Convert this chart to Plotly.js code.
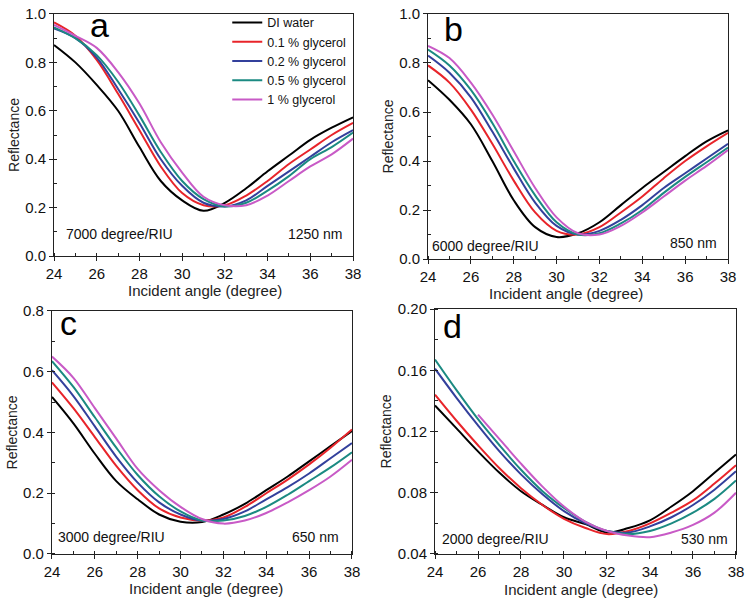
<!DOCTYPE html>
<html>
<head>
<meta charset="utf-8">
<script src="https://cdn.plot.ly/plotly-3.0.1.min.js"></script>
<style>html,body{margin:0;padding:0;background:#fff;}#chart{width:750px;height:600px;}</style>
</head>
<body>
<div id="chart"></div>
<script>
// ---------- data ----------
const seriesNames = ["DI water", "0.1 % glycerol", "0.2 % glycerol", "0.5 % glycerol", "1 % glycerol"];
const seriesColors = ["#000000", "#e8242a", "#33409c", "#1b8a82", "#c85ac6"];
const angle = [24, 25, 26, 27, 28, 29, 30, 31, 32, 33, 34, 35, 36, 37, 38];

// panel a (1250 nm)
const a_water = [0.872, 0.80, 0.707, 0.60, 0.45, 0.31, 0.23, 0.187, 0.22, 0.28, 0.35, 0.415, 0.48, 0.53, 0.573];
const a_g01   = [0.965, 0.91, 0.81, 0.67, 0.52, 0.37, 0.26, 0.21, 0.21, 0.25, 0.31, 0.38, 0.44, 0.50, 0.55];
const a_g02   = [0.94, 0.90, 0.82, 0.69, 0.55, 0.40, 0.29, 0.22, 0.205, 0.23, 0.29, 0.35, 0.41, 0.47, 0.52];
const a_g05   = [0.945, 0.90, 0.83, 0.72, 0.58, 0.43, 0.31, 0.235, 0.205, 0.22, 0.27, 0.33, 0.40, 0.45, 0.51];
const a_g1    = [0.955, 0.91, 0.86, 0.76, 0.63, 0.47, 0.345, 0.245, 0.21, 0.21, 0.25, 0.31, 0.37, 0.42, 0.485];

// panel b (850 nm)
const b_water = [0.73, 0.65, 0.55, 0.40, 0.24, 0.13, 0.09, 0.105, 0.15, 0.22, 0.29, 0.355, 0.42, 0.48, 0.525];
const b_g01   = [0.79, 0.72, 0.61, 0.47, 0.32, 0.19, 0.115, 0.10, 0.13, 0.19, 0.255, 0.33, 0.40, 0.46, 0.515];
const b_g02   = [0.83, 0.76, 0.66, 0.52, 0.37, 0.23, 0.135, 0.10, 0.115, 0.16, 0.22, 0.29, 0.35, 0.41, 0.47];
const b_g05   = [0.855, 0.79, 0.69, 0.555, 0.40, 0.26, 0.15, 0.10, 0.105, 0.145, 0.20, 0.27, 0.335, 0.395, 0.455];
const b_g1    = [0.87, 0.82, 0.72, 0.59, 0.44, 0.29, 0.17, 0.105, 0.10, 0.135, 0.19, 0.255, 0.32, 0.38, 0.445];

// panel c (650 nm)
const c_water = [0.517, 0.43, 0.33, 0.24, 0.18, 0.13, 0.106, 0.105, 0.13, 0.165, 0.21, 0.255, 0.305, 0.355, 0.405];
const c_g01   = [0.565, 0.48, 0.385, 0.29, 0.21, 0.15, 0.12, 0.11, 0.12, 0.155, 0.20, 0.245, 0.295, 0.35, 0.41];
const c_g02   = [0.605, 0.52, 0.42, 0.32, 0.235, 0.17, 0.13, 0.11, 0.115, 0.14, 0.18, 0.22, 0.265, 0.315, 0.365];
const c_g05   = [0.635, 0.55, 0.45, 0.35, 0.26, 0.19, 0.14, 0.11, 0.11, 0.125, 0.155, 0.195, 0.24, 0.285, 0.335];
const c_g1    = [0.65, 0.58, 0.48, 0.38, 0.28, 0.21, 0.155, 0.115, 0.10, 0.11, 0.135, 0.17, 0.21, 0.255, 0.31];

// panel d (530 nm)
const angleD1 = [26, 27, 28, 29, 30, 31, 32, 33, 34, 35, 36, 37, 38];
const d_water = [0.137, 0.122, 0.107, 0.093, 0.081, 0.072, 0.064, 0.0595, 0.054, 0.057, 0.062, 0.071, 0.081, 0.093, 0.105];
const d_g01   = [0.144, 0.127, 0.111, 0.096, 0.083, 0.072, 0.063, 0.057, 0.053, 0.055, 0.060, 0.067, 0.075, 0.086, 0.098];
const d_g02   = [0.161, 0.142, 0.124, 0.107, 0.092, 0.079, 0.068, 0.060, 0.055, 0.054, 0.058, 0.064, 0.072, 0.082, 0.094];
const d_g05   = [0.167, 0.147, 0.128, 0.111, 0.095, 0.081, 0.070, 0.061, 0.055, 0.053, 0.055, 0.060, 0.067, 0.076, 0.088];
const d_g1    = [0.131, 0.115, 0.099, 0.084, 0.071, 0.061, 0.055, 0.052, 0.051, 0.054, 0.059, 0.067, 0.080];

const sensitivityLabels = ["7000 degree/RIU", "6000 degree/RIU", "3000 degree/RIU", "2000 degree/RIU"];
const wavelengthLabels = ["1250 nm", "850 nm", "650 nm", "530 nm"];
const panelLetters = ["a", "b", "c", "d"];
const xTitle = "Incident angle (degree)";
const yTitle = "Reflectance";

// ---------- build ----------
const panels = [
  {xs: [angle, angle, angle, angle, angle], ys: [a_water, a_g01, a_g02, a_g05, a_g1], ax: "x", ay: "y"},
  {xs: [angle, angle, angle, angle, angle], ys: [b_water, b_g01, b_g02, b_g05, b_g1], ax: "x2", ay: "y2"},
  {xs: [angle, angle, angle, angle, angle], ys: [c_water, c_g01, c_g02, c_g05, c_g1], ax: "x3", ay: "y3"},
  {xs: [angle, angle, angle, angle, angleD1], ys: [d_water, d_g01, d_g02, d_g05, d_g1], ax: "x4", ay: "y4"}
];

const traces = [];
panels.forEach((p, pi) => {
  for (let s = 0; s < 5; s++) {
    traces.push({
      type: "scatter", mode: "lines",
      x: p.xs[s], y: p.ys[s],
      xaxis: p.ax, yaxis: p.ay,
      name: seriesNames[s],
      showlegend: pi === 0,
      line: {color: seriesColors[s], width: 2, shape: "spline", smoothing: 1},
      hoverinfo: "skip"
    });
  }
});

const FONT = "Liberation Sans, Arial, sans-serif";
function xAx(domain, anchor) {
  return {
    domain: domain, anchor: anchor, range: [24, 38], dtick: 2, tick0: 24,
    showgrid: false, zeroline: false, showline: true, linecolor: "#222", linewidth: 1, mirror: true,
    ticks: "outside", ticklen: 4, tickcolor: "#222",
    minor: {dtick: 1, ticks: "inside", ticklen: 3, tickcolor: "#222", showgrid: false},
    tickfont: {family: FONT, size: 15, color: "#111"}
  };
}
function yAx(domain, anchor, range, dtick, fmt, minorD) {
  return {
    domain: domain, anchor: anchor, range: range, dtick: dtick, tick0: range[0], tickformat: fmt,
    showgrid: false, zeroline: false, showline: true, linecolor: "#222", linewidth: 1, mirror: true,
    ticks: "outside", ticklen: 4, tickcolor: "#222",
    minor: {dtick: minorD, ticks: "inside", ticklen: 3, tickcolor: "#222", showgrid: false},
    tickfont: {family: FONT, size: 15, color: "#111"},
    title: {text: yTitle, font: {family: FONT, size: 14, color: "#222"}, standoff: 2}
  };
}

const layout = {
  width: 750, height: 600,
  margin: {l: 0, r: 0, t: 0, b: 0},
  paper_bgcolor: "#fff", plot_bgcolor: "#fff",
  font: {family: FONT, color: "#111"},
  xaxis:  xAx([0.072, 0.4707], "y"),
  yaxis:  yAx([0.5733, 0.9767], "x", [0, 1.0], 0.2, ".1f", 0.1),
  xaxis2: xAx([0.5707, 0.9707], "y2"),
  yaxis2: yAx([0.5683, 0.9767], "x2", [0, 1.0], 0.2, ".1f", 0.1),
  xaxis3: xAx([0.0693, 0.4693], "y3"),
  yaxis3: yAx([0.0767, 0.4817], "x3", [0, 0.8], 0.2, ".1f", 0.1),
  xaxis4: xAx([0.58, 0.9813], "y4"),
  yaxis4: yAx([0.0767, 0.485], "x4", [0.04, 0.20], 0.04, ".2f", 0.02),
  showlegend: true,
  legend: {
    x: 0.303, y: 0.987, xanchor: "left", yanchor: "top",
    bgcolor: "rgba(0,0,0,0)", borderwidth: 0,
    font: {family: FONT, size: 12.5, color: "#111"},
    itemwidth: 30, tracegroupgap: 0
  },
  annotations: []
};

const refs = [["x", "y"], ["x2", "y2"], ["x3", "y3"], ["x4", "y4"]];
const letterPos = [[0.115, 0.953], [0.045, 0.94], [0.02, 0.95], [0.02, 0.93]];
const sensPos = [[0.035, 0.09], [0.008, 0.053], [0.015, 0.07], [0.015, 0.062]];
const wavePos = [[0.97, 0.09], [0.97, 0.065], [0.965, 0.068], [0.98, 0.062]];
// x-axis title positions (paper px centres)
const xTitlePos = [[205, 290], [566, 293], [206, 588], [581, 589]];
for (let i = 0; i < 4; i++) {
  const xr = refs[i][0] + " domain", yr = refs[i][1] + " domain";
  layout.annotations.push({
    xref: xr, yref: yr, x: letterPos[i][0], y: letterPos[i][1], xanchor: "left", yanchor: "middle",
    text: panelLetters[i], showarrow: false, font: {family: FONT, size: 34, color: "#000"}
  });
  layout.annotations.push({
    xref: xr, yref: yr, x: sensPos[i][0], y: sensPos[i][1], xanchor: "left", yanchor: "middle",
    text: sensitivityLabels[i], showarrow: false, font: {family: FONT, size: 14, color: "#111"}
  });
  layout.annotations.push({
    xref: xr, yref: yr, x: wavePos[i][0], y: wavePos[i][1], xanchor: "right", yanchor: "middle",
    text: wavelengthLabels[i], showarrow: false, font: {family: FONT, size: 14, color: "#111"}
  });
  layout.annotations.push({
    xref: "paper", yref: "paper", x: xTitlePos[i][0] / 750, y: 1 - xTitlePos[i][1] / 600,
    xanchor: "center", yanchor: "middle",
    text: xTitle, showarrow: false, font: {family: FONT, size: 15, color: "#222"}
  });
}

Plotly.newPlot("chart", traces, layout, {displayModeBar: false, staticPlot: true});
</script>
</body>
</html>
